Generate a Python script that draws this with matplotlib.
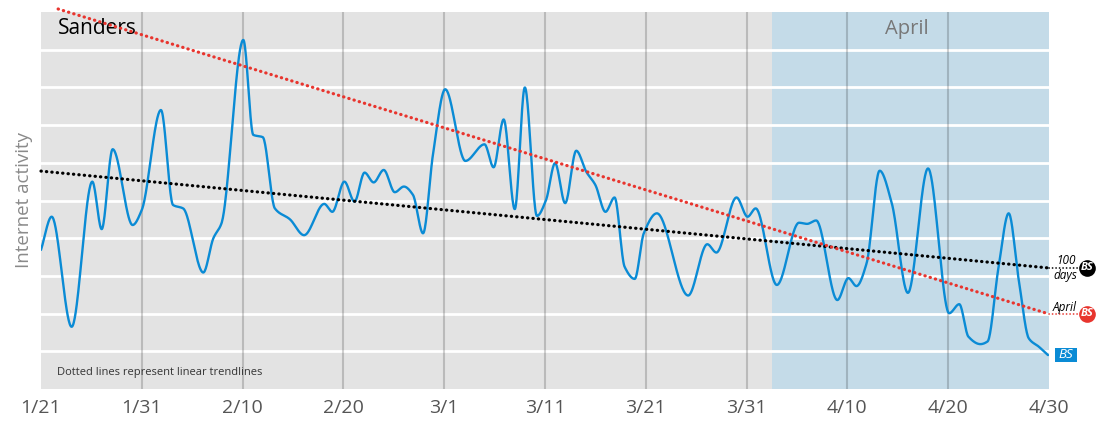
import numpy as np
import matplotlib
matplotlib.use("Agg")
import matplotlib.pyplot as plt
from matplotlib.patches import Rectangle

# ---------------- data ----------------
tick_days = [0, 10, 20, 30, 40, 50, 60, 70, 80, 90, 100]
tick_labels = ["1/21", "1/31", "2/10", "2/20", "3/1", "3/11", "3/21", "3/31", "4/10", "4/20", "4/30"]

# days since 1/21 and activity index
bs_days = [0.0, 1.06, 3.04, 5.09, 6.02, 7.11, 9.09, 10.0, 11.9, 13.1, 14.1, 16.1, 17.1, 17.9,
           20.07, 21.06, 22.0, 23.2, 24.7, 26.1, 28.1, 28.9, 30.1, 31.1, 32.1, 33.0, 34.0,
           35.1, 36.0, 36.9, 37.9, 38.9, 40.1, 42.1, 44.0, 44.9, 45.9, 47.0, 48.0, 49.2,
           50.1, 51.0, 52.0, 53.1, 54.1, 55.0, 56.0, 56.9, 57.9, 58.9, 59.8, 61.1, 64.2,
           66.1, 67.0, 69.0, 70.1, 70.9, 73.0, 75.2, 76.0, 76.9, 79.0, 80.1, 80.9, 81.9,
           83.2, 84.4, 86.0, 88.0, 90.1, 91.1, 92.0, 93.2, 93.9, 95.0, 96.0, 97.0, 98.0,
           99.0, 99.9]
bs_values = [3.69, 4.57, 1.65, 5.50, 4.24, 6.36, 4.35, 4.75, 7.40, 4.88, 4.79, 3.09, 4.00, 4.39,
             9.26, 6.74, 6.68, 4.79, 4.50, 4.08, 4.91, 4.70, 5.50, 4.97, 5.74, 5.48, 5.81,
             5.22, 5.37, 5.15, 4.13, 6.25, 7.95, 6.05, 6.49, 5.88, 7.15, 4.77, 8.00, 4.59,
             5.01, 5.99, 4.93, 6.32, 5.76, 5.41, 4.70, 5.08, 3.24, 2.92, 4.13, 4.66, 2.48,
             3.84, 3.62, 5.08, 4.57, 4.79, 2.76, 4.41, 4.38, 4.47, 2.36, 2.94, 2.73, 3.33,
             5.79, 4.93, 2.55, 5.85, 2.01, 2.25, 1.39, 1.19, 1.26, 3.24, 4.66, 2.89, 1.34,
             1.12, 0.90]

trend_100_days = [0, 100]
trend_100_values = [5.78, 3.21]
trend_april_days = [1.7, 100]
trend_april_values = [10.08, 1.99]

april_start_day = 72.5

# ---------------- helpers ----------------
def pchip(x, y, xs):
    x = np.asarray(x, float); y = np.asarray(y, float)
    h = np.diff(x); d = np.diff(y) / h
    n = len(x)
    m = np.zeros(n)
    for k in range(1, n - 1):
        if d[k - 1] * d[k] <= 0:
            m[k] = 0.0
        else:
            w1 = 2 * h[k] + h[k - 1]
            w2 = h[k] + 2 * h[k - 1]
            m[k] = (w1 + w2) / (w1 / d[k - 1] + w2 / d[k])
    m[0] = d[0]; m[-1] = d[-1]
    idx = np.clip(np.searchsorted(x, xs) - 1, 0, n - 2)
    t = (xs - x[idx]) / h[idx]
    h00 = 2 * t**3 - 3 * t**2 + 1
    h10 = t**3 - 2 * t**2 + t
    h01 = -2 * t**3 + 3 * t**2
    h11 = t**3 - t**2
    return h00 * y[idx] + h10 * h[idx] * m[idx] + h01 * y[idx + 1] + h11 * h[idx] * m[idx + 1]

# ---------------- figure ----------------
plt.rcParams['font.family'] = ['Open Sans', 'DejaVu Sans']
fig = plt.figure(figsize=(10.96, 4.21), dpi=100)
ax = fig.add_axes([41 / 1096, 32 / 421, 1008 / 1096, 377 / 421])
ax.set_xlim(0, 100)
ax.set_ylim(0, 10)
ax.set_facecolor("#e3e3e3")
for s in ax.spines.values():
    s.set_visible(False)

ax.axvspan(april_start_day, 100, color="#c4dbe8", zorder=0.5, lw=0)

for yv in range(1, 10):
    ax.axhline(yv, color="white", lw=2.0, zorder=1)
for xv in tick_days[1:-1]:
    ax.axvline(xv, color=(0, 0, 0, 0.18), lw=1.5, zorder=1.2)

xs = np.linspace(bs_days[0], bs_days[-1], 2000)
ax.plot(xs, pchip(bs_days, bs_values, xs), color="#0a8bd5", lw=1.7, zorder=3,
        solid_capstyle="round")

dot = dict(lw=2.3, linestyle=(0, (0.1, 1.6)), dash_capstyle="round", zorder=4)
ax.plot(trend_100_days, trend_100_values, color="black", clip_on=False, **dot)
ax.plot(trend_april_days, trend_april_values, color="#e8352e", clip_on=False, **dot)

# connectors to the badges
badge_x = (1087 - 41) / 10.08
small_dot = dict(lw=1.2, linestyle=(0, (0.1, 2.0)), dash_capstyle="round", zorder=4, clip_on=False)
ax.plot([100, badge_x - 0.5], [trend_100_values[1]] * 2, color="black", **small_dot)
ax.plot([100, badge_x - 0.5], [trend_april_values[1]] * 2, color="#e8352e", **small_dot)

for yv, col in [(trend_100_values[1], "black"), (trend_april_values[1], "#e8352e")]:
    ax.plot([badge_x], [yv], marker="o", markersize=12, color=col, markeredgewidth=0,
            clip_on=False, zorder=6)
    ax.text(badge_x, yv, "BS", color="white", fontsize=8, style="italic",
            fontweight="bold", ha="center", va="center", zorder=7, clip_on=False)

ax.set_xticks(tick_days)
ax.set_xticklabels(tick_labels, fontsize=14, color="#555555")
ax.tick_params(axis="x", length=0, pad=7)
ax.set_yticks([])
ax.set_ylabel("Internet activity", fontsize=13.5, color="#8a8a8a", labelpad=6)

ax.text(1.7, 9.55, "Sanders", fontsize=15, color="black", ha="left", va="center")
ax.text(85.9, 9.55, "April", fontsize=14.5, color="#777777", ha="center", va="center")
ax.text(1.6, 0.45, "Dotted lines represent linear trendlines", fontsize=8, color="#333333",
        ha="left", va="center")

fig.text(1066 / 1096, 1 - 261 / 421, "100", fontsize=8.5, style="italic", color="black",
         ha="center", va="center")
fig.text(1065 / 1096, 1 - 276 / 421, "days", fontsize=8.5, style="italic", color="black",
         ha="center", va="center")
fig.text(1065 / 1096, 1 - 307 / 421, "April", fontsize=8.5, style="italic", color="black",
         ha="center", va="center")

r = Rectangle((1055 / 1096, 1 - 362 / 421), 22 / 1096, 14 / 421, transform=fig.transFigure,
              facecolor="#0a8bd5", edgecolor="none", zorder=6)
fig.patches.append(r)
fig.text(1066 / 1096, 1 - 355 / 421, "BS", color="white", fontsize=9.5, style="italic",
         ha="center", va="center", zorder=7)

fig.savefig("out.png", dpi=100)
